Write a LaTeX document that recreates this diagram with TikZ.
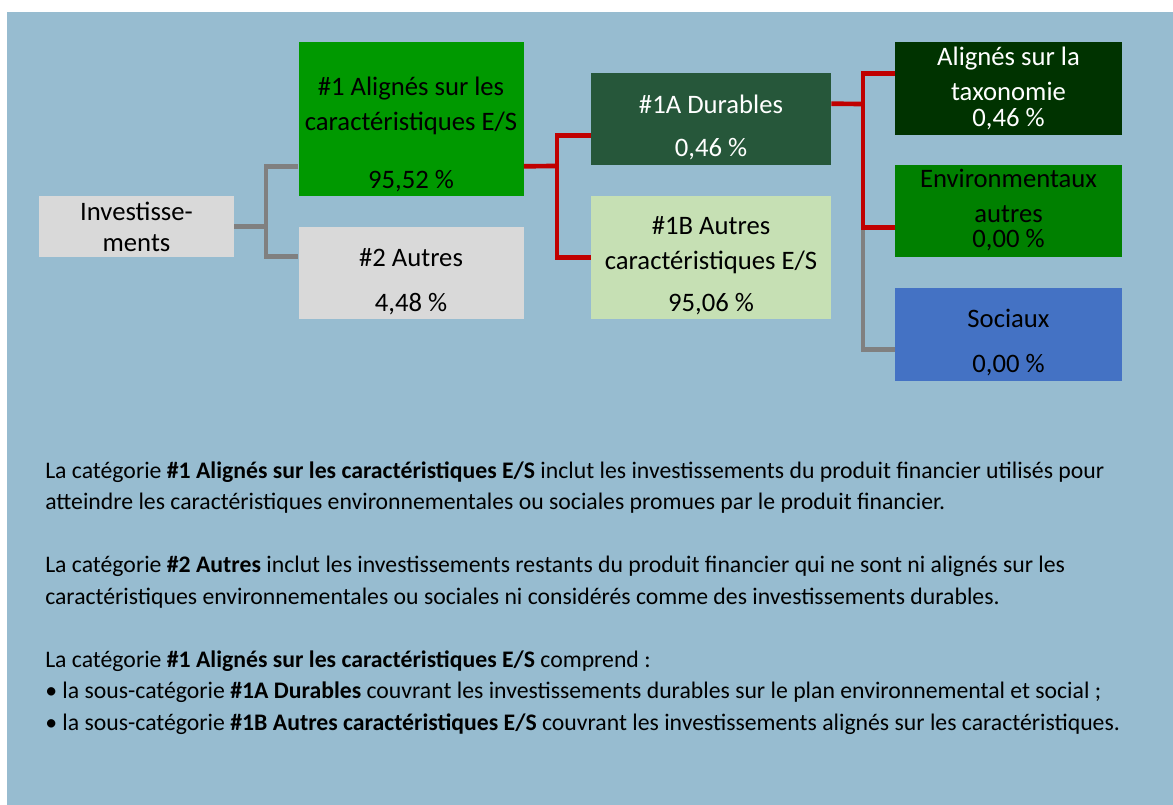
\documentclass[tikz,border=0pt]{standalone}
\usepackage{fontspec}
\setmainfont{Carlito}
\usetikzlibrary{fit}
\definecolor{bgblue}{RGB}{151,188,208}
\definecolor{boxgray}{RGB}{217,217,217}
\definecolor{grnmid}{RGB}{0,153,0}
\definecolor{grndark}{RGB}{38,87,58}
\definecolor{grnlight}{RGB}{198,224,180}
\definecolor{grntax}{RGB}{0,51,0}
\definecolor{grnenv}{RGB}{0,128,0}
\definecolor{bluesoc}{RGB}{68,114,196}
\definecolor{linered}{RGB}{192,0,0}
\definecolor{linegray}{RGB}{128,128,128}
\tikzset{
  box/.style={inner sep=0pt, draw=none},
  txt/.style={align=center, inner sep=0pt, font=\fontsize{20}{26.25}\selectfont},
  bodyline/.style={anchor=base west, inner sep=0pt, font=\fontsize{17.8}{21}\selectfont},
  gline/.style={draw=linegray, line width=3.5pt},
  rline/.style={draw=linered, line width=3.5pt}
}
\begin{document}
\begin{tikzpicture}[x=0.75pt,y=-0.75pt]
\useasboundingbox (0,0) rectangle (1173,805);
\fill[bgblue] (7,12) rectangle (1173,805);
% boxes
\node[box, fill=boxgray, fit={(39,196) (234,257)}] (inv) {};
\node[box, fill=grnmid, fit={(298.5,42) (523.5,196)}] (a1) {};
\node[box, fill=boxgray, fit={(298.5,227) (523.5,319)}] (a2) {};
\node[box, fill=grndark, fit={(591,73) (831,165)}] (d1a) {};
\node[box, fill=grnlight, fit={(591,196) (831,319)}] (d1b) {};
\node[box, fill=grntax, fit={(895,42) (1122,135)}] (tax) {};
\node[box, fill=grnenv, fit={(895,165) (1122,257)}] (env) {};
\node[box, fill=bluesoc, fit={(895,288) (1122,381)}] (soc) {};
% box texts
\node[txt] (invt) at (136.5,226.5) {Investisse-\\[-3pt]ments};
\node[txt] (a1t) at (411,134.5) {\#1 Alignés sur les\\caractéristiques E/S\\[17.25pt]95,52 \%};
\node[txt] (a2t) at (411,282) {\#2 Autres\\[7.5pt]4,48 \%};
\node[txt, text=white] (d1at) at (711,127) {\#1A Durables\\[6pt]0,46 \%};
\node[txt] (d1bt) at (711,266) {\#1B Autres\\caractéristiques E/S\\[5.25pt]95,06 \%};
\node[txt, text=white] (taxt) at (1008.5,88) {Alignés sur la\\taxonomie\\[-6.75pt]0,46 \%};
\node[txt] (envt) at (1008.5,210.5) {Environmentaux\\autres\\[-7.5pt]0,00 \%};
\node[txt] (soct) at (1008.5,343) {Sociaux\\[7.5pt]0,00 \%};
% rails and connectors
\coordinate (r1) at (266,226.5);
\coordinate (r2) at (557,166);
\coordinate (r3) at (863,104);
\coordinate (a1w) at ([yshift=22.5pt]a1.south west);
\coordinate (a1e) at ([yshift=22.5pt]a1.south east);
\coordinate (a2w) at ([yshift=-22.5pt]a2.north west);
\coordinate (d1aw) at ([yshift=22.5pt]d1a.south west);
\coordinate (d1ae) at ([yshift=-23.25pt]d1a.north east);
\coordinate (taxw) at ([yshift=-24pt]tax.north west);
\coordinate (envw) at ([yshift=22.5pt]env.south west);
\coordinate (socw) at ([yshift=24pt]soc.south west);
\draw[gline] (a1w) -| (r1) |- (a2w);
\draw[gline] (inv.east) -- (r1);
\draw[gline] (envw -| r3) |- (socw);
\draw[rline] (d1aw) -| (r2) |- (d1b.west);
\draw[rline] (a1e) -- (r2);
\draw[rline] (taxw) -| (r3) |- (envw);
\draw[rline] (d1ae) -- (r3);
% explanation
\node[bodyline] (l1) at (45,478) {La catégorie \textbf{\#1 Alignés sur les caractéristiques E/S} inclut les investissements du produit financier utilisés pour};
\node[bodyline] (l2) at (45,509.5) {atteindre les caractéristiques environnementales ou sociales promues par le produit financier.};
\node[bodyline] (l3) at (45,572.5) {La catégorie \textbf{\#2 Autres} inclut les investissements restants du produit financier qui ne sont ni alignés sur les};
\node[bodyline] (l4) at (45,604) {caractéristiques environnementales ou sociales ni considérés comme des investissements durables.};
\node[bodyline] (l5) at (45,667) {La catégorie \textbf{\#1 Alignés sur les caractéristiques E/S} comprend :};
\node[bodyline] (l6) at (45,698.5) {• la sous-catégorie \textbf{\#1A Durables} couvrant les investissements durables sur le plan environnemental et social ;};
\node[bodyline] (l7) at (45,730) {• la sous-catégorie \textbf{\#1B Autres caractéristiques E/S} couvrant les investissements alignés sur les caractéristiques.};
\end{tikzpicture}
\end{document}
